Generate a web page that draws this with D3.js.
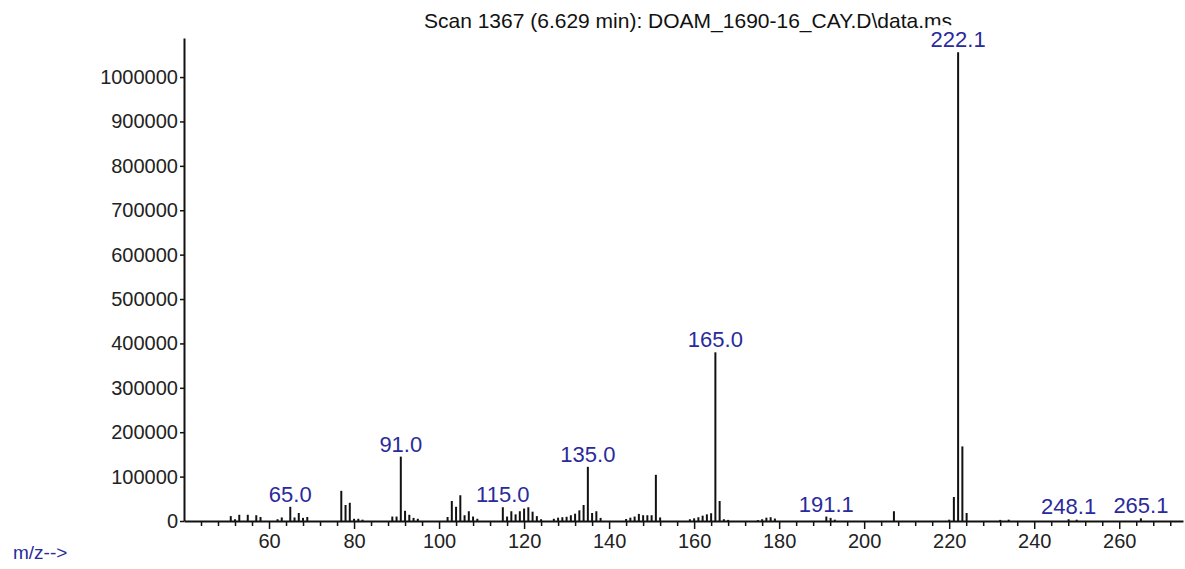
<!DOCTYPE html>
<html>
<head>
<meta charset="utf-8">
<script src="https://cdn.jsdelivr.net/npm/d3@7"></script>
<style>
  body { margin: 0; background: #fff; }
  text { font-family: "Liberation Sans", Arial, sans-serif; }
</style>
</head>
<body>
<div id="graph1"></div>
<script>
// chart size and plot box
const WIDTH = 1185, HEIGHT = 569;
const margin = {top: 38, right: 2, bottom: 48, left: 184};

// spectrum data: m/z and abundance
const mz = [51, 52, 53, 55, 57, 58,
    62, 63, 65, 66, 67, 68, 69,
    77, 78, 79, 80, 81, 82,
    89, 90, 91, 92, 93, 94, 95,
    102, 103, 104, 105, 106, 107, 108, 109,
    115, 116, 117, 118, 119, 120, 121, 122, 123, 124,
    127, 128, 129, 130, 131, 132, 133, 134, 135, 136, 137, 138,
    144, 145, 146, 147, 148, 149, 150, 151, 152,
    159, 160, 161, 162, 163, 164, 165, 166, 167, 168,
    175, 176, 177, 178, 179,
    191.1, 192.1, 193.1,
    207, 220, 221.1, 222.1, 223.1, 224.1,
    232, 234, 248.1, 250, 265.1];
const abundance = [11000, 4000, 14000, 14000, 13000, 9000,
    4000, 8000, 32000, 8000, 18000, 7000, 9000,
    68000, 36000, 41000, 5000, 5000, 3000,
    10000, 10000, 145000, 23000, 14000, 7000, 5000,
    9000, 45000, 32000, 58000, 13000, 22000, 10000, 5000,
    31000, 10000, 22000, 15000, 22000, 28000, 31000, 21000, 11000, 4000,
    5000, 7500, 8500, 9500, 13000, 16500, 24000, 36000, 122000, 18000, 22000, 7000,
    4500, 7500, 10000, 16000, 13000, 13000, 13000, 104000, 8000,
    4000, 6000, 8500, 12000, 15000, 17500, 380000, 45000, 4000, 2500,
    2000, 4000, 7500, 8500, 5500,
    10000, 7000, 3000,
    22000, 3000, 54000, 1056000, 168000, 18000,
    2500, 3000, 4000, 3000, 6000];

// labelled peaks
const peakLabels = [65.0, 91.0, 115.0, 135.0, 165.0, 191.1, 222.1, 248.1, 265.1];

// axis ticks
const yTicks = [0, 100000, 200000, 300000, 400000, 500000, 600000, 700000, 800000, 900000, 1000000];
const xMajor = [60, 80, 100, 120, 140, 160, 180, 200, 220, 240, 260];
const xMinor = [44, 48, 52, 56, 64, 68, 72, 76, 84, 88, 92, 96, 104, 108, 112, 116,
    124, 128, 132, 136, 144, 148, 152, 156, 164, 168, 172, 176, 184, 188, 192, 196,
    204, 208, 212, 216, 224, 228, 232, 236, 244, 248, 252, 256, 264, 268, 272];

const titleText = "Scan 1367 (6.629 min): DOAM_1690-16_CAY.D\\data.ms";

let svg = d3.select("#graph1")
    .append("svg")
    .attr("width", WIDTH)
    .attr("height", HEIGHT);

let x = d3.scaleLinear()
    .domain([40, 275])
    .range([margin.left, WIDTH - margin.right]);

let y = d3.scaleLinear()
    .domain([0, 1088000])
    .range([HEIGHT - margin.bottom, margin.top]);

// title first so the 222.1 label can cover its tail
svg.append("text")
    .attr("x", 688)
    .attr("y", 28)
    .attr("text-anchor", "middle")
    .style("font-size", "21px")
    .style("fill", "#111")
    .text(titleText);

// y axis
let yAxis = svg.append("g")
    .attr("transform", `translate(${margin.left}, 0)`)
    .call(d3.axisLeft(y).tickValues(yTicks).tickSize(4).tickSizeOuter(0).tickPadding(2).tickFormat(d3.format("d")));
yAxis.select(".domain").attr("stroke", "#111").attr("stroke-width", 2);
yAxis.selectAll(".tick line").attr("stroke", "#111").attr("stroke-width", 1.5);
yAxis.selectAll("text").style("font-size", "20px").style("fill", "#222").attr("font-family", null);

// x axis: minor then major ticks
let xMinorAxis = svg.append("g")
    .attr("transform", `translate(0, ${y(0)})`)
    .call(d3.axisBottom(x).tickValues(xMinor).tickSize(5).tickSizeOuter(0).tickFormat(""));
xMinorAxis.select(".domain").attr("stroke", "#111").attr("stroke-width", 2);
xMinorAxis.selectAll(".tick line").attr("stroke", "#111").attr("stroke-width", 1.5);

let xMajorAxis = svg.append("g")
    .attr("transform", `translate(0, ${y(0)})`)
    .call(d3.axisBottom(x).tickValues(xMajor).tickSize(8).tickPadding(5).tickFormat(d3.format("d")));
xMajorAxis.select(".domain").remove();
xMajorAxis.selectAll(".tick line").attr("stroke", "#111").attr("stroke-width", 1.5);
xMajorAxis.selectAll("text").style("font-size", "20px").style("fill", "#222").attr("font-family", null);

// spectrum sticks
let data = mz.map((m, i) => ({mz: m, ab: abundance[i]}));
svg.append("g").selectAll("line")
    .data(data)
    .enter()
    .append("line")
    .attr("x1", d => x(d.mz))
    .attr("x2", d => x(d.mz))
    .attr("y1", y(0))
    .attr("y2", d => y(d.ab))
    .attr("stroke", "#111")
    .attr("stroke-width", 2);

// peak labels with white box behind
let labelG = svg.append("g");
peakLabels.forEach(function(p) {
    let d = data.find(e => Math.abs(e.mz - p) < 0.01);
    let g = labelG.append("g");
    let t = g.append("text")
        .attr("x", x(p))
        .attr("y", y(d.ab) - 5)
        .attr("text-anchor", "middle")
        .style("font-size", "22px")
        .style("fill", "#2a2a9c")
        .text(d3.format(".1f")(p));
    let b = t.node().getBBox();
    g.insert("rect", "text")
        .attr("x", b.x - 1)
        .attr("y", b.y - 2)
        .attr("width", b.width + 2)
        .attr("height", b.height)
        .attr("fill", "#fff");
});

// axis caption
svg.append("text")
    .attr("x", 13)
    .attr("y", 559)
    .style("font-size", "19px")
    .style("fill", "#2a2a9c")
    .text("m/z-->");
</script>
</body>
</html>
